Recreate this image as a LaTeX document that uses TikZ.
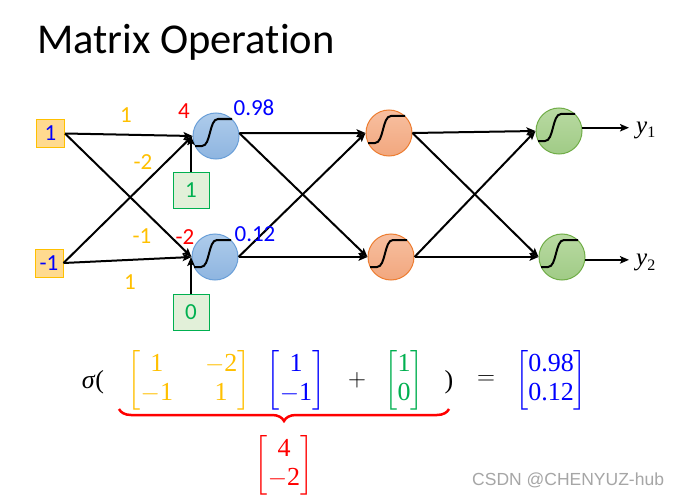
\documentclass[tikz,border=0pt]{standalone}
\usepackage{amsmath}
\usepackage{fontspec}
\setmainfont{Carlito}[Ligatures=NoCommon]
\newfontfamily\serifit{Liberation Serif}
\newfontfamily\wmfont{Liberation Sans}
\newcommand\nm[1]{\text{\serifit #1}}
\usetikzlibrary{arrows.meta,decorations.pathreplacing}
\definecolor{cOr}{HTML}{FFC000}
\definecolor{cBl}{HTML}{0000FF}
\definecolor{cRd}{HTML}{FF0000}
\definecolor{cGr}{HTML}{00B050}
\definecolor{boxY}{HTML}{FFDA8F}
\definecolor{biasF}{HTML}{E2F0D9}
\definecolor{blT}{HTML}{AECCEB}
\definecolor{blB}{HTML}{8EB5E0}
\definecolor{blD}{HTML}{6A9FD8}
\definecolor{orT}{HTML}{F7BFA0}
\definecolor{orB}{HTML}{F2A77E}
\definecolor{orD}{HTML}{ED7D31}
\definecolor{grT}{HTML}{B9DAA2}
\definecolor{grB}{HTML}{A0CB86}
\definecolor{grD}{HTML}{70AD47}
\tikzset{
  arr/.style={line width=2pt,-{Stealth[length=9pt,width=7.5pt,inset=2pt]}},
  inbox/.style={draw=cOr,line width=1pt,fill=boxY,minimum size=28pt,inner sep=0,text=cBl,font=\fontsize{23}{26}\selectfont},
  biasbox/.style={draw=cGr,line width=1pt,fill=biasF,minimum size=36pt,inner sep=0,text=cGr,font=\fontsize{23}{26}\selectfont},
  neur/.style={circle,minimum size=46pt,inner sep=0,line width=1pt},
  blueN/.style={neur,draw=blD,top color=blT,bottom color=blB},
  orN/.style={neur,draw=orD,top color=orT,bottom color=orB},
  grN/.style={neur,draw=grD,top color=grT,bottom color=grB},
  wlab/.style={text=cOr,inner sep=0,font=\fontsize{23}{26}\selectfont},
  eq/.style={inner sep=0,font=\fontsize{26}{29}\selectfont},
  sigm/.pic={\draw[line width=2pt] (-21,10) -- (-14,10) .. controls (-5,10) and (-7,-17) .. (2,-17) -- (16,-17);}
}
\begin{document}
\begin{tikzpicture}[x=1pt,y=-1pt]
\useasboundingbox (0,0) rectangle (678,495);
\fill[white] (0,0) rectangle (678,495);
% title
\node[anchor=base west,inner sep=0,font=\fontsize{42.5}{46}\selectfont] (title) at (37,54) {Matrix Operation};
% inputs
\node[inbox] (x1) at (50.5,133.5) {1};
\node[inbox] (x2) at (49,263) {-1};
\node[biasbox] (b1) at (191,190) {1};
\node[biasbox] (b0) at (191,312) {0};
% neurons
\node[blueN] (n11) at (216,136) {};
\node[blueN] (n12) at (215,257) {};
\node[orN] (n21) at (389,133) {};
\node[orN] (n22) at (391,257) {};
\node[grN] (n31) at (559,131) {};
\node[grN] (n32) at (562,257) {};
\foreach \n in {n11,n12,n21,n22,n31,n32} {\pic at (\n.center) {sigm};}
% connectors layer 0
\draw[arr] (x1.east) -- (n11.west);
\draw[arr] (x1.east) -- (n12.west);
\draw[arr] (x2.east) -- (n11.west);
\draw[arr] (x2.east) -- (n12.west);
\draw[arr] (b1.north) -- (b1.north |- n11.west);
\draw[arr] (b0.north) -- (b0.north |- n12.west);
% layer 1
\draw[arr] (n11.7) -- (n21.west);
\draw[arr] (n11.7) -- (n22.west);
\draw[arr] (n12.east) -- (n21.west);
\draw[arr] (n12.east) -- (n22.west);
% layer 2
\draw[arr] (n21.east) -- (n31.west);
\draw[arr] (n21.east) -- (n32.west);
\draw[arr] (n22.east) -- (n31.west);
\draw[arr] (n22.east) -- (n32.west);
% outputs
\coordinate (oe) at (629,0);
\draw[arr] (n31.8) -- (n31.8 -| oe);
\draw[arr] (n32.-7) -- (n32.-7 -| oe);
\node[anchor=base west,inner sep=0,font=\serifit\fontsize{25}{28}\selectfont] (y1) at (636,133) {\itshape y\upshape\raisebox{-5pt}{\fontsize{16}{17}\selectfont 1}};
\node[anchor=base west,inner sep=0,font=\serifit\fontsize{25}{28}\selectfont] (y2) at (636,265) {\itshape y\upshape\raisebox{-5pt}{\fontsize{16}{17}\selectfont 2}};
% weight labels
\node[wlab] (w11) at (126,115) {1};
\node[wlab] (w21) at (143,162) {-2};
\node[wlab] (w12) at (142,236) {-1};
\node[wlab] (w22) at (130,282) {1};
\node[wlab,text=cRd] (z1) at (184,111) {4};
\node[wlab,text=cRd] (z2) at (185,237) {-2};
\node[wlab,text=cBl] (a1) at (254,108) {0.98};
\node[wlab,text=cBl] (a2) at (255,234) {0.12};
% equation
\node[eq] (sg) at (93,382) {\serifit\textit{σ}(};
\node[eq,text=cOr] (Wm) at (189,380) {$\setlength{\arraycolsep}{16pt}\begin{bmatrix}\nm{1}&-\nm{2}\\-\nm{1}&\nm{1}\end{bmatrix}$};
\node[eq,text=cBl] (xv) at (296,380) {$\begin{bmatrix}\nm{1}\\-\nm{1}\end{bmatrix}$};
\node[eq] (pl) at (357,380) {$+$};
\node[eq,text=cGr] (bv) at (404,380) {$\begin{bmatrix}\nm{1}\\\nm{0}\end{bmatrix}$};
\node[eq] (rp) at (449,382) {\serifit )};
\node[eq] (eqs) at (486,380) {$=$};
\node[eq,text=cBl] (rv) at (551,380) {$\begin{bmatrix}\nm{0.98}\\\nm{0.12}\end{bmatrix}$};
\node[eq,text=cRd] (zv) at (284,465) {$\begin{bmatrix}\nm{4}\\-\nm{2}\end{bmatrix}$};
\draw[cRd,line width=2.5pt,decorate,decoration={brace,amplitude=12pt,mirror}] (119,409) -- (449,409);
% watermark
\node[anchor=base west,inner sep=0,text=gray!70,font=\wmfont\fontsize{17.5}{20}\selectfont] (wm) at (472,485) {CSDN @CHENYUZ-hub};
\end{tikzpicture}
\end{document}
